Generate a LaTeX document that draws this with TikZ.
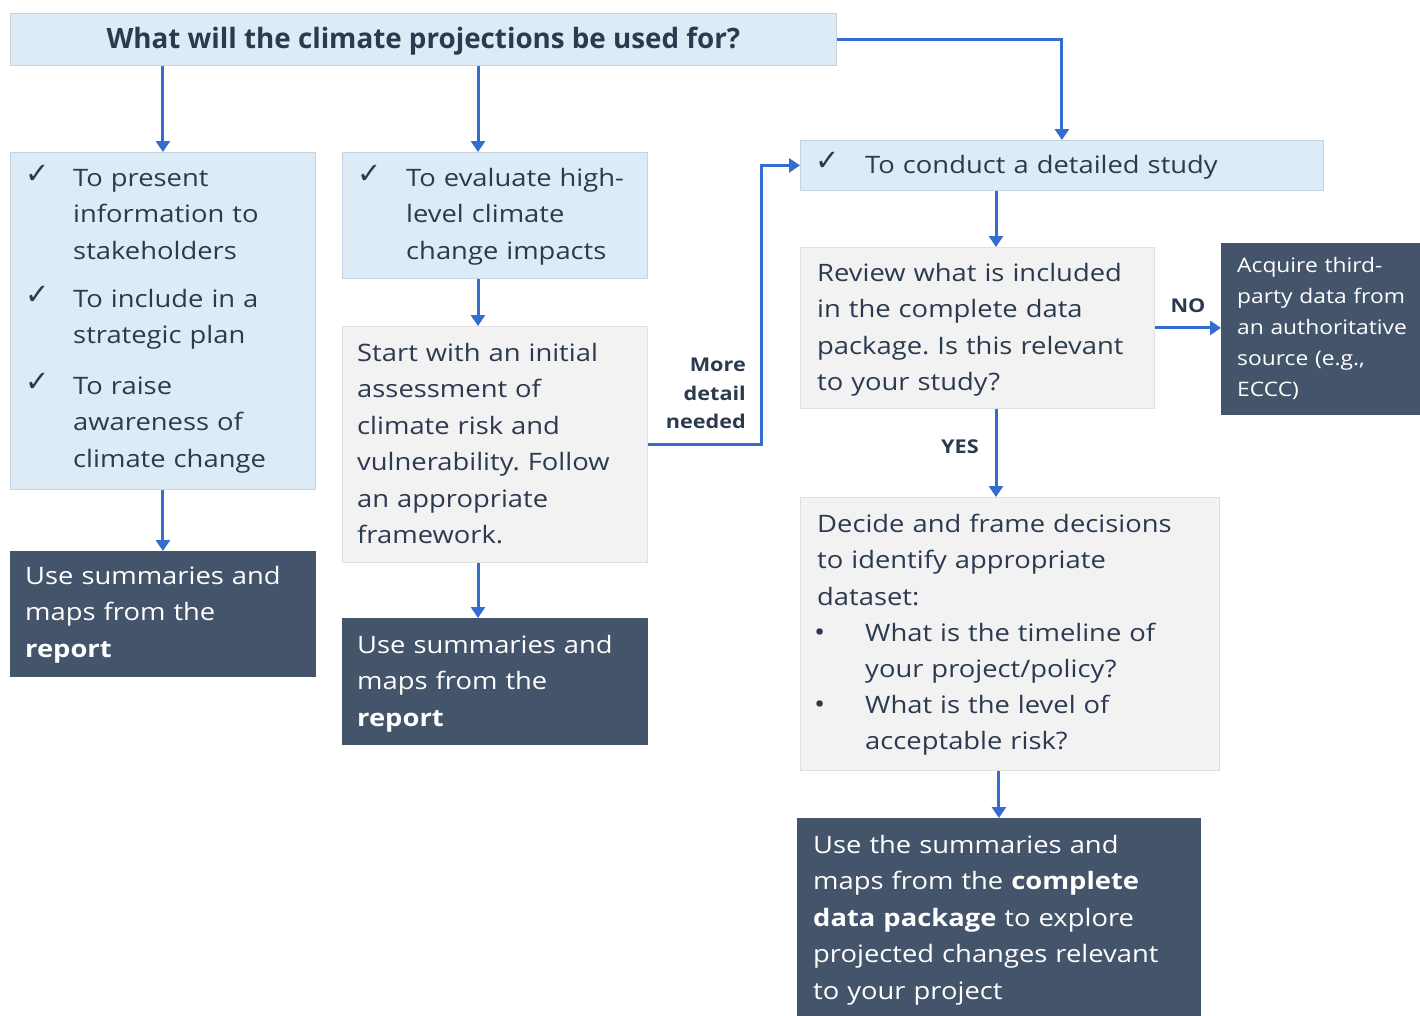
\documentclass[tikz,border=0pt]{standalone}
\usepackage{fontspec}
\setmainfont{Open Sans}[FakeStretch=1.14]
\newfontfamily\symfont{DejaVu Sans}
\usetikzlibrary{arrows.meta}

\definecolor{lblue}{RGB}{221,235,247}
\definecolor{lblueedge}{RGB}{196,210,226}
\definecolor{lgrey}{RGB}{242,242,242}
\definecolor{lgreyedge}{RGB}{224,224,224}
\definecolor{navy}{RGB}{68,84,106}
\definecolor{ink}{RGB}{44,58,80}
\definecolor{flowblue}{RGB}{52,108,208}

\newcommand{\tick}{{\symfont\fontsize{29}{29}\selectfont ✓}}
\frenchspacing

\begin{document}
\begin{tikzpicture}[x=1pt,y=-1pt,
  box/.style={rectangle, inner sep=0pt, anchor=north west, line width=0.8pt},
  lightbox/.style={box, fill=lblue, draw=lblueedge},
  greybox/.style={box, fill=lgrey, draw=lgreyedge},
  darkbox/.style={box, fill=navy, draw=navy},
  txt/.style={anchor=base west, inner sep=0pt, text width=420pt, align=left,
    text=ink, font=\fontsize{24}{36.5}\selectfont},
  wtxt/.style={txt, text=white},
  small/.style={txt, text=white, font=\fontsize{20}{31}\selectfont},
  tickmark/.style={anchor=base west, inner sep=0pt, text=ink},
  flow/.style={draw=flowblue, line width=3pt, -{Triangle[length=11pt,width=14pt]}},
  lbl/.style={inner sep=0pt, text=ink, font=\bfseries\fontsize{19}{28.5}\selectfont},
]
\useasboundingbox[fill=white] (0,0) rectangle (1420,1015);

% column positions for the vertical connectors
\coordinate (c2) at (478,0);
\coordinate (c7) at (996,0);
\coordinate (cm) at (761,0);

% ---------- boxes ----------
\node[lightbox, minimum width=826pt, minimum height=52pt, text height=24pt, text depth=6pt] (q) at (10,13)
  {\scalebox{0.87}[1]{\bfseries\fontsize{28}{28}\selectfont\color{ink}What will the climate projections be used for?}};

\node[lightbox, minimum width=305pt, minimum height=337pt] (b1) at (10,152) {};
\node[lightbox, minimum width=305pt, minimum height=126pt] (b2) at (342,152) {};
\node[greybox,  minimum width=305pt, minimum height=236pt] (b3) at (342,326) {};
\node[darkbox,  minimum width=305pt, minimum height=125pt] (b4) at (10,551) {};
\node[darkbox,  minimum width=305pt, minimum height=126pt] (b5) at (342,618) {};
\node[lightbox, minimum width=523pt, minimum height=50pt]  (b6) at (800,140) {};
\node[greybox,  minimum width=354pt, minimum height=161pt] (b7) at (800,247) {};
\node[darkbox,  minimum width=200pt, minimum height=171pt] (b8) at (1221,243) {};
\node[greybox,  minimum width=419pt, minimum height=273pt] (b9) at (800,497) {};
\node[darkbox,  minimum width=403pt, minimum height=200pt] (b10) at (797,818) {};

% ---------- texts ----------
\node[tickmark] (k1) at (25,183) {\tick};
\node[txt] (t1) at (73,186) {To present\\information to\\stakeholders};
\node[tickmark] (k2) at (25,304) {\tick};
\node[txt] (t2) at (73,307) {To include in a\\strategic plan};
\node[tickmark] (k3) at (25,391) {\tick};
\node[txt] (t3) at (73,394) {To raise\\awareness of\\climate change};

\node[tickmark] (k4) at (357,183) {\tick};
\node[txt] (t4) at (406,186) {To evaluate high-\\level climate\\change impacts};

\node[txt] (t5) at (357,361) {Start with an initial\\assessment of\\climate risk and\\vulnerability. Follow\\an appropriate\\framework.};

\node[wtxt] (t6) at (25,584) {Use summaries and\\maps from the\\\textbf{report}};
\node[wtxt] (t7) at (357,653) {Use summaries and\\maps from the\\\textbf{report}};

\node[tickmark] (k5) at (815,170) {\tick};
\node[txt] (t8) at (865,173) {To conduct a detailed study};

\node[txt] (t9) at (817,281) {Review what is included\\in the complete data\\package. Is this relevant\\to your study?};

\node[small] (t10) at (1237,272) {Acquire third-\\party data from\\an authoritative\\source (e.g.,\\ECCC)};

\node[txt] (t11) at (817,532) {Decide and frame decisions\\to identify appropriate\\dataset:};
\node[tickmark, font=\fontsize{26}{26}\selectfont] (d1) at (814,641) {•};
\node[txt] (t12) at (865,641) {What is the timeline of\\your project/policy?};
\node[tickmark, font=\fontsize{26}{26}\selectfont] (d2) at (814,713) {•};
\node[txt] (t13) at (865,713) {What is the level of\\acceptable risk?};

\node[wtxt] (t14) at (813,853) {Use the summaries and\\maps from the \textbf{complete}\\\textbf{data package} to explore\\projected changes relevant\\to your project};

% ---------- connectors ----------
\draw[flow] (q.south -| b1.north) -- (b1.north);
\draw[flow] (q.south -| c2) -- (b2.north -| c2);
\draw[flow] (q.east) -| (b6.north);
\draw[flow] (b1.south) -- (b4.north);
\draw[flow] (b2.south -| c2) -- (b3.north -| c2);
\draw[flow] (b3.south -| c2) -- (b5.north -| c2);
\draw[flow] (b3.east) -- (b3.east -| cm) |- (b6.west);
\draw[flow] (b6.south -| c7) -- (b7.north -| c7);
\draw[flow] (b7.east) -- (b8.west |- b7.east);
\draw[flow] (b7.south -| c7) -- (b9.north -| c7);
\draw[flow] (b9.south -| b10.north) -- (b10.north);

% ---------- connector labels ----------
\node[lbl, anchor=north east, align=right] (l1) at (746,358) {More\\detail\\needed};
\node[lbl] (l2) at (1188,306) {NO};
\node[lbl] (l3) at (960,447) {YES};
\end{tikzpicture}
\end{document}
